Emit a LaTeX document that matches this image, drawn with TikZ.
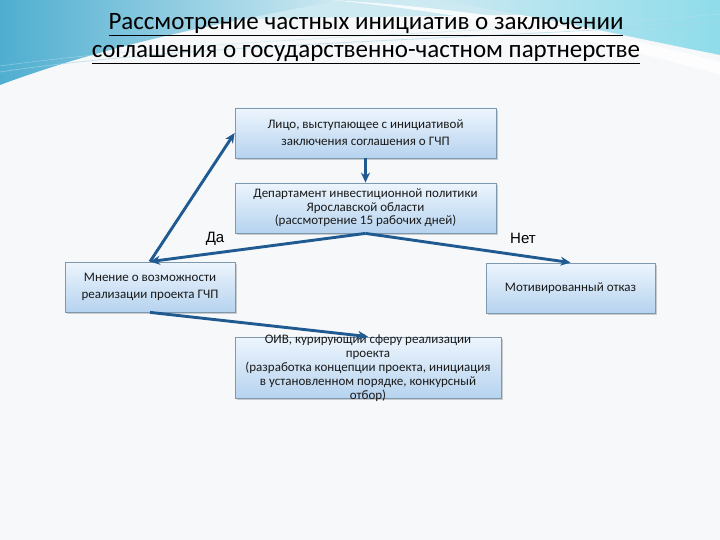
\documentclass[tikz,border=0pt]{standalone}
\usepackage{fontspec}
\setmainfont{Carlito}
\newfontfamily\arialf{Liberation Sans}
\usetikzlibrary{arrows.meta,shadows}
\definecolor{arrowc}{HTML}{1F5A91}
\definecolor{boxborder}{HTML}{7E98AE}
\definecolor{boxtop}{HTML}{EDF5FD}
\definecolor{boxbot}{HTML}{B6D3EF}
\definecolor{txt}{HTML}{1A1A1A}
\definecolor{bgc}{HTML}{F6F8FA}
\definecolor{swdark}{HTML}{4FAED0}
\definecolor{swlight}{HTML}{CDE9F2}
\definecolor{swcyan}{HTML}{8FDCEA}
\begin{document}
\begin{tikzpicture}[x=1pt,y=-1pt,
  box/.style={draw=boxborder, line width=0.8pt, top color=boxtop, bottom color=boxbot,
    drop shadow={shadow xshift=2pt,shadow yshift=-2pt,opacity=0.3,fill=black!60},
    inner sep=0pt, font=\fontsize{13}{17}\selectfont, align=center, text=txt},
  conn/.style={draw=arrowc, line width=2.9pt, -{Stealth[length=10pt,width=9pt]}},
  lbl/.style={font=\arialf\fontsize{15}{15}\selectfont, text=black, inner sep=0pt},
  ttl/.style={font=\fontsize{25}{28}\selectfont, text=black, inner sep=0pt, align=center}
]
\useasboundingbox (0,0) rectangle (720,540);
\fill[bgc] (0,0) rectangle (720,540);
% background swooshes
\fill[swlight] (0,0) -- (720,0) -- (720,10) .. controls (500,18) and (250,14) .. (0,30) -- cycle;
\shade[left color=swdark, right color=swlight] (0,0) -- (340,0) .. controls (250,18) and (120,40) .. (0,85) -- cycle;
\shade[left color=swlight, right color=swcyan] (430,0) -- (720,0) -- (720,55) .. controls (620,35) and (520,12) .. (430,0) -- cycle;
\fill[white, opacity=0.8] (330,0) .. controls (470,8) and (600,30) .. (720,62) -- (720,75) .. controls (600,40) and (460,12) .. (330,0) -- cycle;
\draw[swdark!50, line width=0.8pt, opacity=0.6] (0,72) .. controls (200,42) and (480,40) .. (720,22);
\draw[swdark!40, line width=0.6pt, opacity=0.5] (0,66) .. controls (220,36) and (500,34) .. (720,14);
% title
\node[ttl] (title) at (366,38.5) {\underline{Рассмотрение частных инициатив о заключении}\\\underline{соглашения о государственно-частном партнерстве}};
% boxes
\node[box, minimum width=261pt, minimum height=50pt] (lico) at (365.5,133) {Лицо, выступающее с инициативой\\заключения соглашения о ГЧП};
\node[box, minimum width=261pt, minimum height=50pt, font=\fontsize{13}{13.5}\selectfont] (dep) at (365.5,208) {Департамент инвестиционной политики\\Ярославской области\\(рассмотрение 15 рабочих дней)};
\node[box, minimum width=170pt, minimum height=50pt] (mnen) at (150,287) {Мнение о возможности\\реализации проекта ГЧП};
\node[box, minimum width=169pt, minimum height=50pt] (otkaz) at (570.5,288) {Мотивированный отказ};
\node[box, minimum width=266pt, minimum height=61pt] (oiv) at (368,367.5) {};
\node[font=\fontsize{13}{14}\selectfont, align=center, text=txt, inner sep=0pt] (oivtext) at (368,368) {ОИВ, курирующий сферу реализации\\проекта\\(разработка концепции проекта, инициация\\в установленном порядке, конкурсный\\отбор)};
% connectors
\draw[conn] (lico.south) -- (dep.north);
\draw[conn] (dep.south) -- (mnen.north);
\draw[conn] (dep.south) -- (otkaz.north);
\draw[conn] (mnen.north) -- (lico.west);
\draw[conn] (mnen.south) -- (oiv.north);
% labels
\node[lbl] (da) at (215,238.5) {Да};
\node[lbl] (net) at (523,238.5) {Нет};
\end{tikzpicture}
\end{document}
